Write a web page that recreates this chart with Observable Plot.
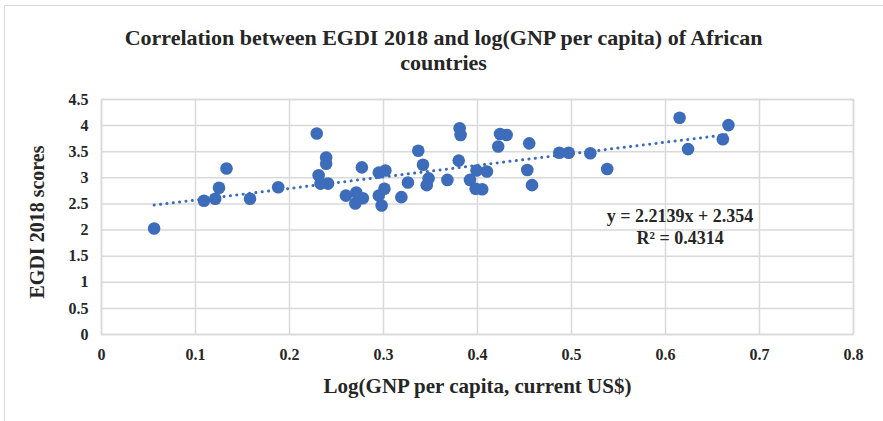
<!DOCTYPE html>
<html>
<head>
<meta charset="utf-8">
<script src="https://cdn.jsdelivr.net/npm/d3@7"></script>
<script src="https://cdn.jsdelivr.net/npm/@observablehq/plot@0.6"></script>
<style>
  html, body { margin: 0; padding: 0; background: #fff; }
  #wrap { position: relative; width: 883px; height: 421px; overflow: hidden; }
  #edge { position: absolute; left: 4px; top: 5px; right: -10px; bottom: -10px;
          border-top: 1.5px solid #d9d9d9; border-left: 1.5px solid #d9d9d9; pointer-events: none; }
  #wrap svg { position: absolute; left: 0; top: 0; }
</style>
</head>
<body>
<div id="wrap"><div id="edge"></div></div>
<script>
// log(GNP per capita) and EGDI 2018 score for each African country
const logGnp = [0.056, 0.109, 0.121, 0.125, 0.133, 0.158, 0.188, 0.229, 0.239, 0.239,
                0.231, 0.233, 0.241, 0.260, 0.271, 0.278, 0.270, 0.277, 0.295, 0.302,
                0.295, 0.301, 0.298, 0.319, 0.326, 0.337, 0.342, 0.348, 0.346, 0.368,
                0.381, 0.382, 0.380, 0.392, 0.399, 0.410, 0.398, 0.405, 0.422, 0.424,
                0.431, 0.455, 0.453, 0.458, 0.487, 0.497, 0.520, 0.538, 0.615, 0.624,
                0.667, 0.661];
const egdi   = [2.03, 2.56, 2.60, 2.81, 3.18, 2.60, 2.82, 3.85, 3.39, 3.27,
                3.05, 2.89, 2.89, 2.66, 2.72, 2.61, 2.51, 3.20, 3.10, 3.14,
                2.66, 2.79, 2.47, 2.63, 2.91, 3.52, 3.25, 2.99, 2.86, 2.96,
                3.95, 3.82, 3.33, 2.96, 3.14, 3.12, 2.79, 2.78, 3.60, 3.84,
                3.82, 3.66, 3.15, 2.86, 3.48, 3.48, 3.47, 3.17, 4.15, 3.55,
                4.01, 3.74];

// Linear trend line coefficients
const slope = 2.2139;
const intercept = 2.354;
const rSquared = 0.4314;

// Axis ticks
const xTicks = [0, 0.1, 0.2, 0.3, 0.4, 0.5, 0.6, 0.7, 0.8];
const yTicks = [0, 0.5, 1, 1.5, 2, 2.5, 3, 3.5, 4, 4.5];

// Text
const titleLines = ["Correlation between EGDI 2018 and log(GNP per capita) of African", "countries"];
const xTitle = "Log(GNP per capita, current US$)";
const yTitle = "EGDI 2018 scores";

const points = logGnp.map((x, i) => ({x, y: egdi[i]}));
const xMin = d3.min(logGnp), xMax = d3.max(logGnp);
const trend = [xMin, xMax].map(x => ({x, y: slope * x + intercept}));
const eqLines = [`y = ${slope}x + ${intercept}`, `R² = ${rSquared}`];

const blue = "#3d6dba";
const ink = "#262626";
const grid = "#d9d9d9";
const fmt = d => String(+d.toFixed(1));

const chart = Plot.plot({
  width: 883,
  height: 421,
  marginLeft: 101,
  marginRight: 30,
  marginTop: 99,
  marginBottom: 87,
  style: {fontFamily: "'Liberation Serif', 'Times New Roman', serif", fontWeight: "bold", fontSize: "16px", color: ink, background: "transparent"},
  x: {domain: [0, 0.8]},
  y: {domain: [0, 4.5]},
  marks: [
    Plot.gridX(xTicks, {stroke: grid, strokeOpacity: 1, strokeWidth: 1.5}),
    Plot.gridY(yTicks, {stroke: grid, strokeOpacity: 1, strokeWidth: 1.5}),
    Plot.frame({stroke: grid, strokeWidth: 1.5}),
    Plot.axisX({ticks: xTicks, tickSize: 0, tickPadding: 14, tickFormat: fmt, label: null, fontSize: 16, fontWeight: "bold", fill: ink}),
    Plot.axisY({ticks: yTicks, tickSize: 0, tickPadding: 13, tickFormat: fmt, label: null, fontSize: 16, fontWeight: "bold", fill: ink}),
    Plot.line(trend, {x: "x", y: "y", stroke: blue, strokeWidth: 3, strokeDasharray: "0.1 6.3", strokeLinecap: "round"}),
    Plot.dot(points, {x: "x", y: "y", r: 6.3, fill: blue, stroke: "none"}),
    // regression equation and R²
    Plot.text(eqLines, {x: () => 0.6155, y: (d, i) => [2.27, 1.84][i], text: d => d, fontSize: 18, fontWeight: "bold", fill: ink, textAnchor: "middle"}),
    // chart title
    Plot.text(titleLines, {frameAnchor: "top", dx: -34, text: d => d, fontSize: 22, fontWeight: "bold", fill: ink, lineAnchor: "middle"}),
    // axis titles
    Plot.text([xTitle], {frameAnchor: "bottom", dy: 52, text: d => d, fontSize: 21, fontWeight: "bold", fill: ink, lineAnchor: "middle"}),
    Plot.text([yTitle], {frameAnchor: "left", dx: -64, dy: 5, rotate: -90, textAnchor: "middle", text: d => d, fontSize: 20, fontWeight: "bold", fill: ink, lineAnchor: "middle"})
  ]
});

// place the two title lines above the plot frame
d3.select(chart).selectAll("text").filter(function() {
  return titleLines.includes(this.textContent);
}).each(function() {
  const i = titleLines.indexOf(this.textContent);
  const offset = [-62, -37][i];
  const t = this.getAttribute("transform") || "";
  this.setAttribute("transform", t + ` translate(0,${offset})`);
});

document.getElementById("wrap").appendChild(chart);
</script>
</body>
</html>
